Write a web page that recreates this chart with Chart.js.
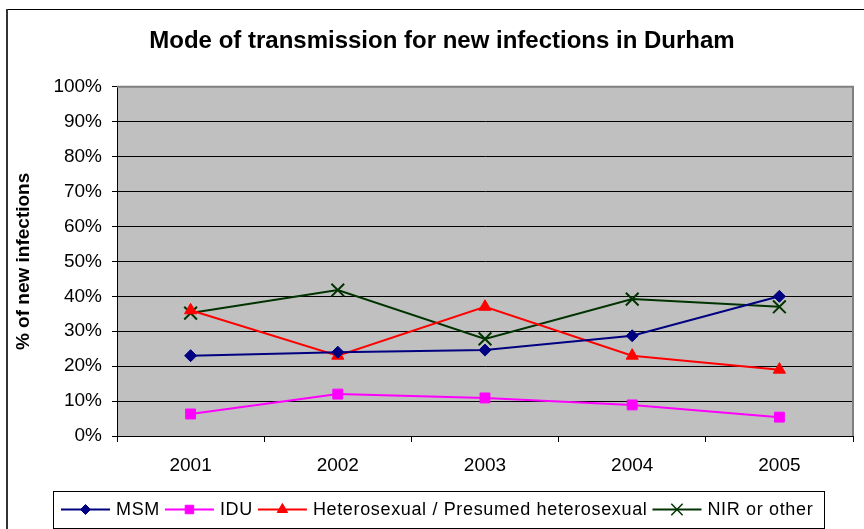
<!DOCTYPE html>
<html>
<head>
<meta charset="utf-8">
<title>Mode of transmission</title>
<script src="https://cdn.jsdelivr.net/npm/chart.js"></script>
<style>
  html, body { margin: 0; padding: 0; background: #fff; }
  #wrap { width: 864px; height: 529px; position: relative; }
</style>
</head>
<body>
<div id="wrap"><canvas id="myChart" width="864" height="529"></canvas></div>
<script>
// datos
var years = ["2001", "2002", "2003", "2004", "2005"];
var msm = [23, 24, 24.6, 28.7, 40];
var idu = [6.3, 12, 10.9, 8.9, 5.4];
var hetero = [36, 23, 37, 23, 19];
var nir = [35.2, 41.8, 27.8, 39.2, 37];
var yTicks = [0, 10, 20, 30, 40, 50, 60, 70, 80, 90, 100];

var fuente = "'Liberation Sans', Arial, sans-serif";

// fondo blanco, borde exterior y area gris
var fondo = {
    id: "fondo",
    beforeDraw: function (chart) {
        var ctx = chart.ctx;
        var a = chart.chartArea;
        ctx.save();
        ctx.fillStyle = "#fff";
        ctx.fillRect(0, 0, chart.width, chart.height);
        ctx.fillStyle = "#c0c0c0";
        ctx.fillRect(a.left, a.top, a.right - a.left, a.bottom - a.top);
        // borde del grafico
        ctx.strokeStyle = "#000";
        ctx.lineWidth = 1;
        ctx.beginPath();
        ctx.moveTo(7, 9.5);
        ctx.lineTo(chart.width + 5, 9.5);
        ctx.stroke();
        ctx.strokeStyle = "#333";
        ctx.lineWidth = 2;
        ctx.beginPath();
        ctx.moveTo(7, 9);
        ctx.lineTo(7, chart.height + 5);
        ctx.stroke();
        ctx.restore();
    },
    beforeDatasetsDraw: function (chart) {
        var ctx = chart.ctx;
        var a = chart.chartArea;
        ctx.save();
        ctx.strokeStyle = "#808080";
        ctx.lineWidth = 2;
        ctx.beginPath();
        ctx.moveTo(a.left, a.top);
        ctx.lineTo(a.right, a.top);
        ctx.lineTo(a.right, a.bottom);
        ctx.stroke();
        ctx.restore();
    }
};

// leyenda con linea y marcador, como en excel
var leyenda = {
    id: "leyenda",
    afterDraw: function (chart) {
        var ctx = chart.ctx;
        ctx.save();
        ctx.strokeStyle = "#000";
        ctx.lineWidth = 1;
        ctx.strokeRect(53.5, 491.5, 771, 37);
        ctx.font = "18px " + fuente;
        ctx.letterSpacing = "0.65px";
        ctx.textBaseline = "middle";
        ctx.fillStyle = "#000";
        var x = 61;
        var y = 509.5;
        chart.data.datasets.forEach(function (ds) {
            ctx.strokeStyle = ds.borderColor;
            ctx.lineWidth = 2;
            ctx.beginPath();
            ctx.moveTo(x, y);
            ctx.lineTo(x + 49, y);
            ctx.stroke();
            var opt = {
                pointStyle: ds.pointStyle,
                radius: ds.pointRadius - 1,
                borderWidth: ds.pointStyle === "crossRot" ? 1.5 : 1,
                rotation: 0
            };
            ctx.fillStyle = ds.pointBackgroundColor;
            ctx.strokeStyle = ds.pointBorderColor;
            ctx.lineWidth = opt.borderWidth;
            Chart.helpers.drawPoint(ctx, opt, x + 24.5, y);
            ctx.fillStyle = "#000";
            ctx.fillText(ds.label, x + 55, y + 1);
            x = x + 55 + ctx.measureText(ds.label).width + 5;
        });
        ctx.restore();
    }
};

function serie(label, data, color, estilo, radio) {
    return {
        label: label,
        data: data,
        borderColor: color,
        backgroundColor: color,
        pointBackgroundColor: color,
        pointBorderColor: color,
        pointStyle: estilo,
        pointRadius: radio,
        pointHoverRadius: radio,
        pointBorderWidth: estilo === "crossRot" ? 2 : 1,
        borderWidth: 2,
        tension: 0,
        fill: false
    };
}

var config = {
    type: "line",
    data: {
        labels: years,
        datasets: [
            serie("MSM", msm, "#000080", "rectRot", 6),
            serie("IDU", idu, "#ff00ff", "rect", 7),
            serie("Heterosexual / Presumed heterosexual", hetero, "#ff0000", "triangle", 7),
            serie("NIR or other", nir, "#003300", "crossRot", 9)
        ]
    },
    options: {
        responsive: false,
        animation: false,
        events: [],
        // padding izquierdo para centrar el titulo como en el original
        layout: { padding: { left: 26, right: 6, top: 0, bottom: 43 } },
        plugins: {
            legend: { display: false },
            tooltip: { enabled: false },
            title: {
                display: true,
                text: "Mode of transmission for new infections in Durham",
                color: "#000",
                font: { family: fuente, size: 24, weight: "bold", lineHeight: 1.2 },
                padding: { top: 27, bottom: 31 }
            }
        },
        scales: {
            x: {
                offset: true,
                grid: { display: true, offset: true, drawOnChartArea: false, drawTicks: true, tickLength: 6, color: "#000", lineWidth: 1 },
                border: { display: true, color: "#000", width: 1 },
                ticks: { color: "#000", font: { family: fuente, size: 19 }, padding: 12, maxRotation: 0 },
                afterFit: function (s) { s.height = 50; }
            },
            y: {
                min: 0,
                max: 100,
                afterBuildTicks: function (s) {
                    s.ticks = yTicks.map(function (v) { return { value: v }; });
                },
                grid: { color: "#000", lineWidth: 1, drawTicks: true, tickLength: 5 },
                border: { display: true, color: "#000", width: 1 },
                ticks: {
                    color: "#000",
                    font: { family: fuente, size: 19 },
                    padding: 10,
                    callback: function (v) { return v + "%"; }
                },
                title: {
                    display: true,
                    text: "% of new infections",
                    color: "#000",
                    font: { family: fuente, size: 19, weight: "bold", lineHeight: 1.2 },
                    padding: { top: -14, bottom: 0 }
                },
                afterFit: function (s) { s.width = 91; }
            }
        }
    },
    plugins: [fondo, leyenda]
};

var myChart = new Chart(document.getElementById("myChart"), config);
</script>
</body>
</html>
